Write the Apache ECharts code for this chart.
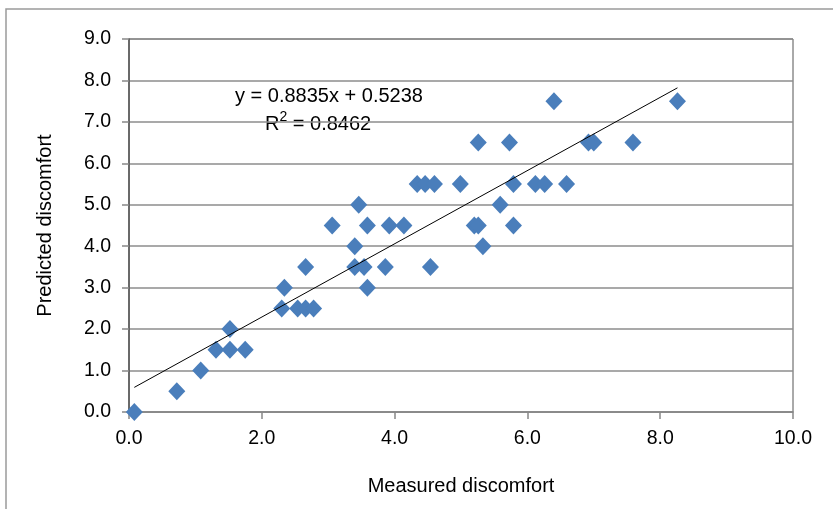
<!DOCTYPE html>
<html>
<head>
<meta charset="utf-8">
<script src="https://cdn.jsdelivr.net/npm/echarts@6/dist/echarts.min.js"></script>
<style>
  html, body { margin: 0; padding: 0; background: #fff; }
  #ScatterView { width: 833px; height: 509px; }
</style>
</head>
<body>
<div id="ScatterView"></div>
<script>
// measured vs predicted discomfort
const measured = [0.08, 0.72, 1.08, 1.31, 1.52, 1.52, 1.75, 2.30, 2.34, 2.54, 2.66, 2.78, 2.66,
  3.06, 3.40, 3.40, 3.46, 3.54, 3.59, 3.59, 3.86, 3.92, 4.14, 4.34, 4.46, 4.60, 4.54, 4.99,
  5.20, 5.26, 5.26, 5.33, 5.59, 5.73, 5.79, 5.79, 6.12, 6.26, 6.40, 6.59, 6.92, 7.00, 7.59, 8.26];
const predicted = [0, 0.5, 1, 1.5, 1.5, 2, 1.5, 2.5, 3, 2.5, 2.5, 2.5, 3.5,
  4.5, 4, 3.5, 5, 3.5, 3, 4.5, 3.5, 4.5, 4.5, 5.5, 5.5, 5.5, 3.5, 5.5,
  4.5, 4.5, 6.5, 4, 5, 6.5, 5.5, 4.5, 5.5, 5.5, 7.5, 5.5, 6.5, 6.5, 6.5, 7.5];
const slope = 0.8835;
const intercept = 0.5238;
const rSquared = "0.8462";
const xTitle = "Measured discomfort";
const yTitle = "Predicted discomfort";

const font = '"Liberation Sans", Arial, sans-serif';
let chart = echarts.init(document.getElementById("ScatterView"));

let points = measured.map(function (m, i) {
  return [m, predicted[i]];
});
let xMin = Math.min.apply(null, measured);
let xMax = Math.max.apply(null, measured);
let trend = [
  [xMin, slope * xMin + intercept],
  [xMax, slope * xMax + intercept],
];

let option = {
  backgroundColor: "#fff",
  animation: false,
  grid: {
    left: 129,
    right: 40,
    top: 39,
    bottom: 97,
    show: true,
    borderColor: "#555",
    borderWidth: 1,
  },
  xAxis: {
    type: "value",
    min: 0,
    max: 10,
    interval: 2,
    name: xTitle,
    nameLocation: "middle",
    nameGap: 64,
    nameTextStyle: { fontFamily: font, fontSize: 20, color: "#000" },
    axisLine: { show: true, lineStyle: { color: "#888", width: 1.5 } },
    axisTick: { show: true, inside: false, length: 7, lineStyle: { color: "#888", width: 1.5 } },
    axisLabel: {
      margin: 17,
      fontFamily: font,
      fontSize: 19.5,
      color: "#000",
      formatter: function (v) { return v.toFixed(1); },
    },
    splitLine: { show: false },
  },
  yAxis: {
    type: "value",
    min: 0,
    max: 9,
    interval: 1,
    name: yTitle,
    nameLocation: "middle",
    nameGap: 74,
    nameTextStyle: { fontFamily: font, fontSize: 20, color: "#000" },
    axisLine: { show: true, lineStyle: { color: "#555", width: 1.5 } },
    axisTick: { show: true, inside: false, length: 7, lineStyle: { color: "#888", width: 1.5 } },
    axisLabel: {
      margin: 18,
      fontFamily: font,
      fontSize: 19.5,
      color: "#000",
      formatter: function (v) { return v.toFixed(1); },
    },
    splitLine: { show: true, lineStyle: { color: "#8c8c8c", width: 1.5 } },
  },
  graphic: [
    {
      type: "rect",
      silent: true,
      shape: { x: 6, y: 9, width: 900, height: 600 },
      style: { fill: null, stroke: "#9a9a9a", lineWidth: 1.5 },
    },
    {
      type: "text",
      left: 235,
      top: 86,
      style: {
        text: "y = " + slope + "x + " + intercept,
        font: "20px " + font,
        fill: "#000",
      },
    },
    {
      type: "text",
      left: 265,
      top: 110,
      style: {
        text: "R{sup|2} = " + rSquared,
        rich: {
          sup: { fontSize: 14, verticalAlign: "top", padding: [0, 0, 14, 0], fontFamily: font },
        },
        font: "20px " + font,
        fill: "#000",
      },
    },
  ],
  series: [
    {
      name: "Predicted",
      type: "scatter",
      symbol: "diamond",
      symbolSize: [17, 18],
      itemStyle: { color: "#4a7ebb", opacity: 1 },
      data: points,
      z: 3,
    },
    {
      name: "Trend",
      type: "line",
      data: trend,
      symbol: "none",
      lineStyle: { color: "#000", width: 1 },
      z: 4,
    },
  ],
};
chart.setOption(option);
</script>
</body>
</html>
